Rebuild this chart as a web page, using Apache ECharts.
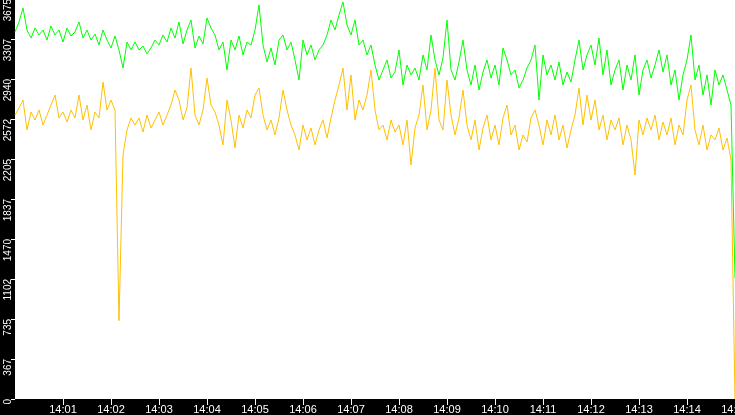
<!DOCTYPE html>
<html>
<head>
<meta charset="utf-8">
<script src="https://cdn.jsdelivr.net/npm/echarts@6/dist/echarts.min.js"></script>
<style>
  html, body { margin: 0; padding: 0; background: #000; }
  #chart { width: 735px; height: 415px; }
</style>
</head>
<body>
<div id="chart"></div>
<script>
// 采样间隔（秒），起点 14:00:00
const stepSec = 5;
const startHour = 14;

// y 轴刻度
const yTickStep = 367.5;
const yMax = 3675;

// 绿色曲线
const greenVals = [
  3372, 3464, 3592, 3390, 3316, 3408, 3344, 3390, 3298, 3427,
  3344, 3390, 3280, 3408, 3335, 3372, 3464, 3316, 3390, 3298,
  3353, 3252, 3390, 3298, 3225, 3335, 3207, 3041, 3280, 3207,
  3280, 3207, 3243, 3170, 3225, 3298, 3252, 3344, 3280, 3408,
  3316, 3464, 3262, 3390, 3482, 3225, 3335, 3262, 3501, 3408,
  3344, 3207, 3280, 3023, 3298, 3207, 3335, 3161, 3280, 3252,
  3390, 3620, 3252, 3096, 3225, 3069, 3298, 3344, 3207, 3280,
  3115, 2931, 3298, 3161, 3252, 3115, 3207, 3252, 3344, 3482,
  3390, 3528, 3648, 3436, 3344, 3482, 3252, 3298, 3161, 3252,
  3069, 2931, 3023, 3115, 2949, 3004, 3207, 2885, 3069, 2977,
  3041, 2931, 3161, 3023, 3344, 3115, 2977, 3133, 3482, 3023,
  2931, 3096, 3298, 3023, 2885, 3069, 2839, 3004, 3115, 2949,
  3069, 2885, 3225, 3115, 2977, 3023, 2858, 2931, 3041, 3115,
  3252, 2747, 3161, 2977, 3069, 2931, 3096, 2885, 3004, 2912,
  3115, 3298, 3023, 3161, 3252, 3069, 3316, 2977, 3207, 2885,
  3023, 3115, 2839, 3069, 2931, 3161, 2793, 3023, 3115, 2949,
  3069, 3207, 3004, 3161, 2885, 3023, 2747, 2977, 3115, 3344,
  2931, 3069, 2793, 2977, 2701, 3023, 2885, 2977, 2839, 2701,
  1110
];

// 黄色曲线
const yellowVals = [
  2609, 2674, 2747, 2472, 2637, 2563, 2655, 2517, 2609, 2701,
  2793, 2582, 2637, 2545, 2655, 2582, 2793, 2563, 2701, 2472,
  2637, 2582, 2912, 2655, 2747, 2655, 720, 2242, 2472, 2582,
  2517, 2582, 2453, 2609, 2490, 2563, 2637, 2517, 2609, 2701,
  2839, 2747, 2563, 2674, 3041, 2609, 2517, 2655, 2949, 2701,
  2637, 2517, 2334, 2747, 2563, 2306, 2609, 2490, 2655, 2582,
  2793, 2858, 2609, 2472, 2563, 2426, 2582, 2839, 2655, 2517,
  2426, 2288, 2517, 2380, 2490, 2334, 2472, 2563, 2398, 2582,
  2747, 2885, 3041, 2655, 2977, 2563, 2747, 2655, 2793, 3023,
  2655, 2472, 2517, 2380, 2563, 2453, 2517, 2334, 2563, 2150,
  2490, 2609, 2885, 2472, 2655, 3041, 2563, 2472, 2931, 2609,
  2426, 2582, 2839, 2517, 2380, 2563, 2288, 2490, 2609, 2380,
  2517, 2334, 2582, 2701, 2426, 2517, 2288, 2426, 2361, 2582,
  2655, 2517, 2334, 2563, 2426, 2609, 2380, 2517, 2306, 2472,
  2609, 2858, 2517, 2793, 2563, 2747, 2472, 2609, 2380, 2563,
  2472, 2582, 2334, 2517, 2380, 2058, 2563, 2426, 2582, 2472,
  2609, 2380, 2545, 2426, 2582, 2334, 2517, 2426, 2747, 2885,
  2472, 2334, 2517, 2288, 2426, 2380, 2490, 2288, 2398, 2196,
  0
];

const toPairs = vals => vals.map((v, i) => [i * stepSec, v]);

const chart = echarts.init(document.getElementById('chart'));

chart.setOption({
  animation: false,
  backgroundColor: '#000',
  grid: {
    left: 15,
    right: 0,
    top: -1,
    bottom: 16,
    outerBoundsMode: 'none',
    show: true,
    backgroundColor: '#fff',
    borderWidth: 0
  },
  xAxis: {
    type: 'value',
    min: 0,
    max: 900,
    interval: 60,
    axisLine: { show: false },
    splitLine: { show: false },
    axisTick: { length: 6, lineStyle: { color: '#fff' } },
    axisLabel: {
      color: '#fff',
      fontFamily: 'Liberation Sans',
      fontSize: 11,
      margin: 5,
      showMinLabel: false,
      formatter: v => startHour + ':' + String(Math.round(v / 60)).padStart(2, '0')
    }
  },
  yAxis: {
    type: 'value',
    min: 0,
    max: yMax,
    interval: yTickStep,
    axisLine: { show: false },
    splitLine: { show: false },
    axisTick: { length: 4, lineStyle: { color: '#fff' } },
    axisLabel: {
      color: '#fff',
      fontFamily: 'Liberation Sans',
      fontSize: 10,
      margin: 2,
      rotate: 90,
      align: 'right',
      formatter: v => String(Math.floor(v))
    }
  },
  series: [
    {
      type: 'line',
      data: toPairs(yellowVals),
      showSymbol: false,
      lineStyle: { color: '#ffc000', width: 1 },
      itemStyle: { color: '#ffc000' }
    },
    {
      type: 'line',
      data: toPairs(greenVals),
      showSymbol: false,
      lineStyle: { color: '#00ff00', width: 1 },
      itemStyle: { color: '#00ff00' }
    }
  ]
});
</script>
</body>
</html>
